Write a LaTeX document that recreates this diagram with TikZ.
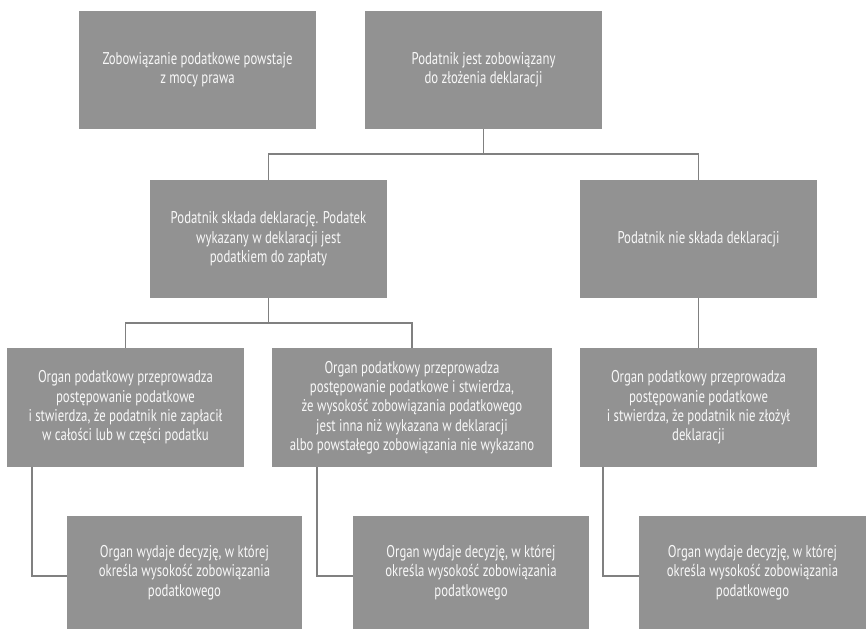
\documentclass[tikz,border=0pt]{standalone}
\usepackage{fontspec}
\setmainfont[FakeStretch=0.75]{PT Sans}
\definecolor{boxfill}{RGB}{146,146,146}
\definecolor{linegray}{RGB}{128,128,128}
\definecolor{boxtext}{RGB}{248,248,248}
\tikzset{
  box/.style={fill=boxfill, text=boxtext, align=center, inner sep=0pt,
    font=\fontsize{17}{19.3}\selectfont},
  link/.style={draw=linegray, line width=1.6pt}
}
\begin{document}
\begin{tikzpicture}[x=1pt,y=-1pt]
\useasboundingbox (0,0) rectangle (866,629);

% top row
\node[box, minimum width=237pt, minimum height=118pt] (b1) at (197.5,70)
  {Zobowiązanie podatkowe powstaje\\z mocy prawa};
\node[box, minimum width=237pt, minimum height=118pt] (b2) at (483.5,70)
  {Podatnik jest zobowiązany\\do złożenia deklaracji};

% second row
\node[box, minimum width=237pt, minimum height=118pt] (b3) at (268.5,239)
  {Podatnik składa deklarację. Podatek\\wykazany w deklaracji jest\\podatkiem do zapłaty};
\node[box, minimum width=237pt, minimum height=118pt] (b4) at (698.5,239)
  {Podatnik nie składa deklaracji};

% third row
\node[box, minimum width=237pt, minimum height=119pt] (b5) at (125.5,407.5)
  {Organ podatkowy przeprowadza\\postępowanie podatkowe\\i stwierdza, że podatnik nie zapłacił\\w całości lub w części podatku};
\node[box, minimum width=280pt, minimum height=119pt] (b6) at (412,407.5)
  {Organ podatkowy przeprowadza\\postępowanie podatkowe i stwierdza,\\że wysokość zobowiązania podatkowego\\jest inna niż wykazana w deklaracji\\albo powstałego zobowiązania nie wykazano};
\node[box, minimum width=237pt, minimum height=119pt] (b7) at (698.5,407.5)
  {Organ podatkowy przeprowadza\\postępowanie podatkowe\\i stwierdza, że podatnik nie złożył\\deklaracji};

% decisions
\node[box, minimum width=235pt, minimum height=113pt] (b8) at (184.5,572.5)
  {Organ wydaje decyzję, w której\\określa wysokość zobowiązania\\podatkowego};
\node[box, minimum width=236pt, minimum height=113pt] (b9) at (471,572.5)
  {Organ wydaje decyzję, w której\\określa wysokość zobowiązania\\podatkowego};
\node[box, minimum width=227pt, minimum height=113pt] (b10) at (752.5,572.5)
  {Organ wydaje decyzję, w której\\określa wysokość zobowiązania\\podatkowego};

% branching connectors
\coordinate (j1) at (483.5,154);
\draw[link] (b2.south) -- (j1);
\draw[link] (b3.north) |- (j1) -| (b4.north);

\coordinate (j2) at (268.5,323);
\draw[link] (b3.south) -- (j2);
\draw[link] (b5.north) |- (j2) -| (b6.north);

\draw[link] (b4.south) -- (b7.north);

% elbow connectors to the decisions
\draw[link] ([xshift=25pt]b5.south west) |- ([yshift=-3.5pt]b8.west);
\draw[link] ([xshift=45pt]b6.south west) |- ([yshift=-3.5pt]b9.west);
\draw[link] ([xshift=23pt]b7.south west) |- ([yshift=-3.5pt]b10.west);
\end{tikzpicture}
\end{document}
